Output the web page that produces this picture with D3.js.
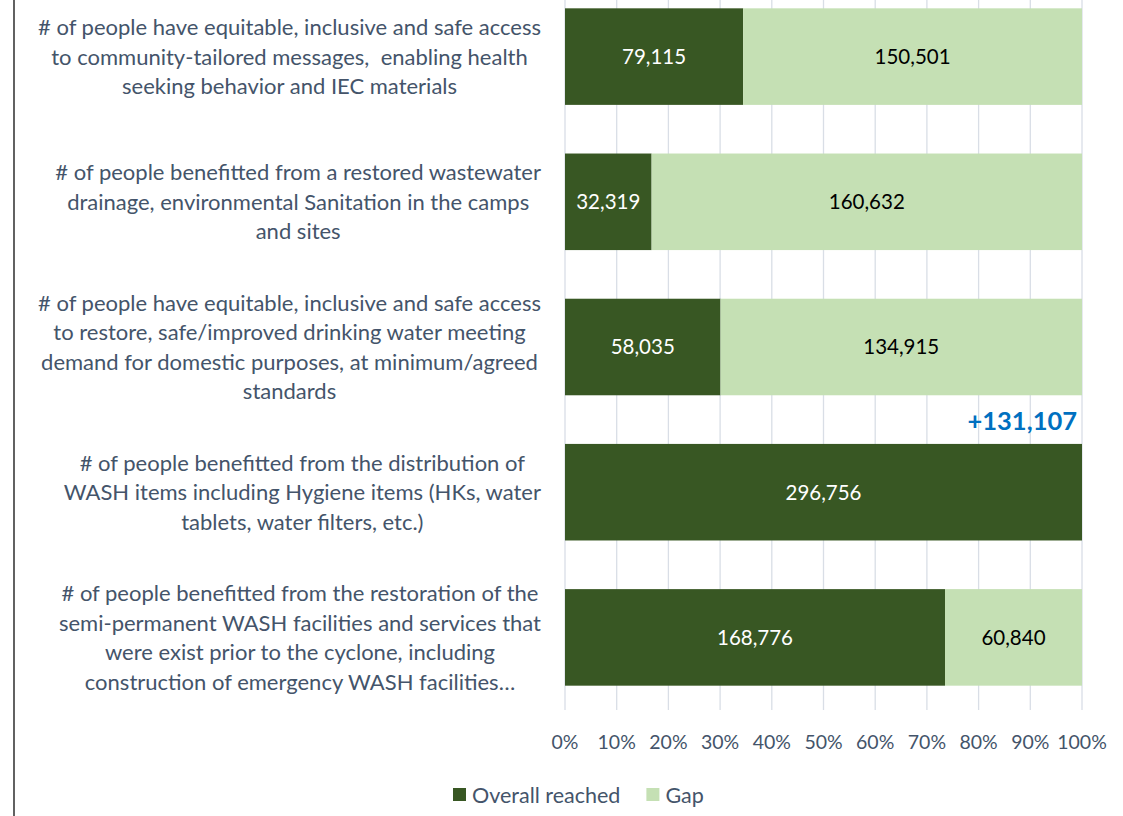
<!DOCTYPE html>
<html>
<head>
<meta charset="utf-8">
<style>
  body { margin: 0; background: #fff; }
  svg text { font-family: Lato, "Open Sans", sans-serif; white-space: pre; }
  .grid line { stroke: #D9DEE6; stroke-width: 1.3px; }
  .cat text, .tick-label, .legend text { fill: #44546A; }
</style>
</head>
<body>
<script src="https://cdn.jsdelivr.net/npm/d3@7"></script>
<script>
// indicator labels, wrapped as in the source chart
var categories = [
  ["# of people have equitable, inclusive and safe access",
   "to community-tailored messages,  enabling health",
   "seeking behavior and IEC materials"],
  ["# of people benefitted from a restored wastewater",
   "drainage, environmental Sanitation in the camps",
   "and sites"],
  ["# of people have equitable, inclusive and safe access",
   "to restore, safe/improved drinking water meeting",
   "demand for domestic purposes, at minimum/agreed",
   "standards"],
  ["# of people benefitted from the distribution of",
   "WASH items including Hygiene items (HKs, water",
   "tablets, water filters, etc.)"],
  ["# of people benefitted from the restoration of the",
   "semi-permanent WASH facilities and services that",
   "were exist prior to the cyclone, including",
   "construction of emergency WASH facilities\u2026"]
];
var reached = [79115, 32319, 58035, 296756, 168776];
var gap     = [150501, 160632, 134915, 0, 60840];
var extra   = [null, null, null, "+131,107", null];   // over-target note
var xTicks  = [0, 0.1, 0.2, 0.3, 0.4, 0.5, 0.6, 0.7, 0.8, 0.9, 1];
var seriesNames = ["Overall reached", "Gap"];
var colors = ["#385723", "#C5E0B4"];

var W = 1123, H = 816;
var plot = { left: 565, right: 1082, top: -16, bottom: 710 };

var svg = d3.select("body").append("svg")
    .attr("width", W)
    .attr("height", H);

// chart frame edge on the left
svg.append("line")
    .attr("x1", 14).attr("x2", 14)
    .attr("y1", 0).attr("y2", H)
    .style("stroke", "#3a3a3a")
    .style("stroke-width", 1.6);

var x = d3.scaleLinear().domain([0, 1]).range([plot.left, plot.right]);
var y = d3.scaleBand()
    .domain(d3.range(categories.length))
    .range([plot.top, plot.bottom])
    .paddingInner(0.335)
    .paddingOuter(0.1675);

// vertical grid
svg.append("g").classed("grid", true)
  .selectAll("line")
  .data(xTicks)
  .join("line")
    .attr("x1", function (d) { return x(d); })
    .attr("x2", function (d) { return x(d); })
    .attr("y1", plot.top)
    .attr("y2", plot.bottom);

// stacked 100% data
var rows = reached.map(function (r, i) {
  var total = r + gap[i];
  return { i: i, total: total, segs: [
    { s: 0, v: r, x0: 0, x1: r / total },
    { s: 1, v: gap[i], x0: r / total, x1: 1 }
  ]};
});

var bars = svg.append("g").selectAll("g")
  .data(rows)
  .join("g")
    .attr("transform", function (d) { return "translate(0," + y(d.i) + ")"; });

bars.selectAll("rect")
  .data(function (d) { return d.segs.filter(function (s) { return s.v > 0; }); })
  .join("rect")
    .attr("x", function (s) { return x(s.x0); })
    .attr("width", function (s) { return x(s.x1) - x(s.x0); })
    .attr("height", y.bandwidth())
    .style("fill", function (s) { return colors[s.s]; });

bars.selectAll("text.val")
  .data(function (d) { return d.segs.filter(function (s) { return s.v > 0; }); })
  .join("text")
    .classed("val", true)
    .attr("x", function (s) { return (x(s.x0) + x(s.x1)) / 2; })
    .attr("y", y.bandwidth() / 2)
    .attr("dy", "0.36em")
    .attr("text-anchor", "middle")
    .style("font-size", "20.5px")
    .style("fill", function (s) { return s.s === 0 ? "#ffffff" : "#000000"; })
    .text(function (s) { return d3.format(",")(s.v); });

// note above the over-achieving bar
svg.append("g").selectAll("text")
  .data(extra.map(function (e, i) { return { e: e, i: i }; }).filter(function (d) { return d.e; }))
  .join("text")
    .attr("x", x(1) - 5)
    .attr("y", function (d) { return y(d.i) - 14; })
    .attr("text-anchor", "end")
    .style("font-size", "25.5px")
    .style("font-weight", "bold")
    .style("fill", "#0070C0")
    .text(function (d) { return d.e; });

// category labels, lines centred within a right-aligned block
var lineH = 29.5;
var cat = svg.append("g").classed("cat", true);
categories.forEach(function (lines, i) {
  var g = cat.append("g");
  var t = g.selectAll("text")
    .data(lines)
    .join("text")
      .style("font-size", "22px")
      .attr("text-anchor", "middle")
      .text(function (d) { return d; });
  var maxW = d3.max(t.nodes(), function (n) { return n.getComputedTextLength(); });
  var cx = 541 - maxW / 2;
  var cy = y(i) + y.bandwidth() / 2;
  t.attr("x", cx)
   .attr("y", function (d, k) { return cy + (k - (lines.length - 1) / 2) * lineH; })
   .attr("dy", "0.36em");
});

// x tick labels
svg.append("g").selectAll("text")
  .data(xTicks)
  .join("text")
    .classed("tick-label", true)
    .attr("x", function (d) { return x(d); })
    .attr("y", 742)
    .attr("dy", "0.36em")
    .attr("text-anchor", "middle")
    .style("font-size", "19.5px")
    .text(d3.format(".0%"));

// legend
var legend = svg.append("g").classed("legend", true)
    .attr("transform", "translate(453,795)");
var lx = 0;
seriesNames.forEach(function (name, i) {
  var item = legend.append("g").attr("transform", "translate(" + lx + ",0)");
  item.append("rect")
      .attr("x", 0).attr("y", -7)
      .attr("width", 13).attr("height", 13)
      .style("fill", colors[i]);
  var tx = item.append("text")
      .attr("x", 19)
      .attr("dy", "0.36em")
      .style("font-size", "21.5px")
      .text(name);
  lx += 19 + tx.node().getComputedTextLength() + 26;
});
</script>
</body>
</html>
